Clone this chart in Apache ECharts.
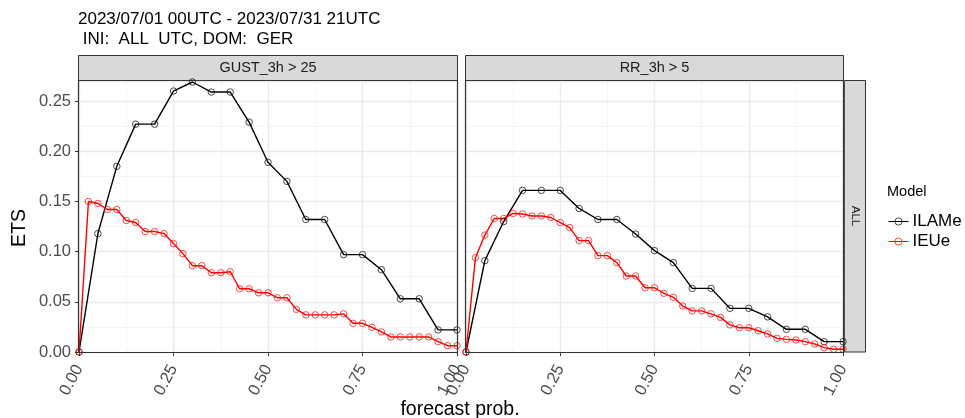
<!DOCTYPE html>
<html>
<head>
<meta charset="utf-8">
<script src="https://cdn.jsdelivr.net/npm/echarts@6/dist/echarts.min.js"></script>
<style>
  html, body { margin: 0; padding: 0; background: #fff; }
  #chart { width: 965px; height: 418px; }
</style>
</head>
<body>
<div id="chart"></div>
<script>
// Forecast probability thresholds (20-member and 40-member ensembles)
const probILAMe = [0, 0.05, 0.1, 0.15, 0.2, 0.25, 0.3, 0.35, 0.4, 0.45, 0.5,
  0.55, 0.6, 0.65, 0.7, 0.75, 0.8, 0.85, 0.9, 0.95, 1.0];
const probIEUe = [0, 0.025, 0.05, 0.075, 0.1, 0.125, 0.15, 0.175, 0.2, 0.225, 0.25,
  0.275, 0.3, 0.325, 0.35, 0.375, 0.4, 0.425, 0.45, 0.475, 0.5,
  0.525, 0.55, 0.575, 0.6, 0.625, 0.65, 0.675, 0.7, 0.725, 0.75,
  0.775, 0.8, 0.825, 0.85, 0.875, 0.9, 0.925, 0.95, 0.975, 1.0];

// ETS, GUST_3h > 25
const gustILAMe = [0, 0.118, 0.185, 0.227, 0.227, 0.260, 0.269, 0.259, 0.259, 0.229, 0.189,
  0.170, 0.132, 0.132, 0.097, 0.097, 0.082, 0.053, 0.053, 0.022, 0.022];
const gustIEUe = [0, 0.150, 0.148, 0.142, 0.142, 0.131, 0.129, 0.120, 0.120, 0.118, 0.108,
  0.098, 0.086, 0.086, 0.079, 0.079, 0.080, 0.063, 0.063, 0.059, 0.059,
  0.054, 0.054, 0.0425, 0.037, 0.037, 0.037, 0.037, 0.038, 0.0286, 0.0286,
  0.0246, 0.020, 0.015, 0.015, 0.015, 0.015, 0.015, 0.0103, 0.0063, 0.0063];

// ETS, RR_3h > 5
const rrILAMe = [0, 0.091, 0.130, 0.161, 0.161, 0.161, 0.143, 0.132, 0.132, 0.1175, 0.101,
  0.089, 0.0634, 0.0634, 0.0435, 0.0435, 0.035, 0.0226, 0.0226, 0.0103, 0.0103];
const rrIEUe = [0, 0.094, 0.1165, 0.133, 0.133, 0.138, 0.1375, 0.1355, 0.1355, 0.134, 0.129,
  0.124, 0.111, 0.111, 0.096, 0.096, 0.089, 0.0757, 0.0757, 0.064, 0.064,
  0.0585, 0.0545, 0.0458, 0.041, 0.041, 0.038, 0.0345, 0.027, 0.0242, 0.0242,
  0.0212, 0.018, 0.0136, 0.0126, 0.012, 0.0103, 0.008, 0.0043, 0.0027, 0.0027];

const models = ['ILAMe', 'IEUe'];
const panels = ['GUST_3h > 25', 'RR_3h > 5'];
const rowStrip = 'ALL';
const titleLines = ['2023/07/01 00UTC - 2023/07/31 21UTC', ' INI:  ALL  UTC, DOM:  GER'];
const xTitle = 'forecast prob.';
const yTitle = 'ETS';
const legendTitle = 'Model';

const colors = { ILAMe: '#000000', IEUe: '#ff0000' };
const FONT = '"Liberation Sans", Arial, sans-serif';

const gridBox = [
  { left: 79, top: 81, width: 378, height: 271 },
  { left: 466, top: 81, width: 377, height: 271 }
];

const pair = (xs, ys) => xs.map((x, i) => [x, ys[i]]);

function xAxisFor(i) {
  return {
    type: 'value', gridIndex: i, min: 0, max: 1, interval: 0.25,
    axisLine: { show: false },
    axisTick: { show: true, length: 4, lineStyle: { color: '#333333', width: 1 } },
    axisLabel: { rotate: 62, margin: 14, padding: [14, 0, 0, 0], color: '#4d4d4d',
      fontSize: 16.5, fontFamily: FONT, formatter: v => v.toFixed(2) },
    splitLine: { show: true, lineStyle: { color: '#ebebeb', width: 1.4 } },
    minorTick: { show: false, splitNumber: 2 },
    minorSplitLine: { show: true, lineStyle: { color: '#f2f2f2', width: 0.8 } }
  };
}
function yAxisMajor(i) {
  return {
    type: 'value', gridIndex: i, min: 0, max: 0.27, interval: 0.05,
    axisLine: { show: false },
    axisTick: { show: i === 0, length: 4, lineStyle: { color: '#333333', width: 1 } },
    axisLabel: { show: i === 0, showMaxLabel: false, margin: 8, color: '#4d4d4d',
      fontSize: 16.5, fontFamily: FONT, formatter: v => v.toFixed(2) },
    splitLine: { show: true, lineStyle: { color: '#ebebeb', width: 1.4 } },
    z: 1
  };
}
function yAxisMinor(i) {
  return {
    type: 'value', gridIndex: i, min: 0, max: 0.27, interval: 0.025, position: 'left',
    axisLine: { show: false }, axisTick: { show: false }, axisLabel: { show: false },
    splitLine: { show: true, lineStyle: { color: '#f2f2f2', width: 0.8 } },
    z: 0
  };
}

function lineSeries(name, grid, xs, ys) {
  return {
    name, type: 'line', xAxisIndex: grid, yAxisIndex: grid * 2,
    data: pair(xs, ys),
    color: colors[name],
    lineStyle: { color: colors[name], width: 1.4 },
    symbol: 'circle', symbolSize: 6.5, showAllSymbol: true,
    itemStyle: { color: 'rgba(255,255,255,0)', borderColor: colors[name], borderWidth: 1, opacity: 0.7 },
    emphasis: { disabled: true },
    animation: false, clip: true, z: 3
  };
}

const stripStyle = { fill: '#d9d9d9', stroke: '#333333', lineWidth: 1 };
const graphics = [];
gridBox.forEach((g, i) => {
  graphics.push({ type: 'rect', shape: { x: g.left - 0.5, y: 55.5, width: g.width + 1, height: 25 },
    style: stripStyle, silent: true });
  graphics.push({ type: 'text', x: g.left + g.width / 2, y: 68,
    style: { text: panels[i], fill: '#1a1a1a', font: '14.5px ' + FONT, align: 'center', verticalAlign: 'middle' },
    silent: true });
  // panel frame, drawn above the grid lines
  graphics.push({ type: 'rect', z: 10, shape: { x: g.left - 0.5, y: g.top - 0.5, width: g.width + 1, height: g.height + 1 },
    style: { fill: null, stroke: '#333333', lineWidth: 1.2 }, silent: true });
});
graphics.push({ type: 'rect', shape: { x: 844.5, y: 80.5, width: 21, height: 271.5 }, style: stripStyle, silent: true });
graphics.push({ type: 'text', x: 855, y: 216, rotation: -Math.PI / 2,
  style: { text: rowStrip, fill: '#1a1a1a', font: '11.5px ' + FONT, align: 'center', verticalAlign: 'middle' },
  silent: true });
graphics.push({ type: 'text', x: 78, y: 11,
  style: { text: titleLines[0], fill: '#000', font: '17px ' + FONT, align: 'left', verticalAlign: 'top' } });
graphics.push({ type: 'text', x: 78, y: 31,
  style: { text: titleLines[1], fill: '#000', font: '17px ' + FONT, align: 'left', verticalAlign: 'top', whiteSpace: 'pre' } });
graphics.push({ type: 'text', x: 460, y: 410,
  style: { text: xTitle, fill: '#000', font: '19.5px ' + FONT, align: 'center', verticalAlign: 'middle' } });
graphics.push({ type: 'text', x: 20, y: 228, rotation: Math.PI / 2,
  style: { text: yTitle, fill: '#000', font: '19.5px ' + FONT, align: 'center', verticalAlign: 'middle' } });
graphics.push({ type: 'text', x: 887, y: 192,
  style: { text: legendTitle, fill: '#000', font: '14.5px ' + FONT, align: 'left', verticalAlign: 'middle' } });

const chart = echarts.init(document.getElementById('chart'), null, { renderer: 'canvas' });
chart.setOption({
  animation: false,
  backgroundColor: '#ffffff',
  grid: gridBox.map(g => Object.assign({ show: false, containLabel: false }, g)),
  xAxis: [xAxisFor(0), xAxisFor(1)],
  yAxis: [yAxisMajor(0), yAxisMinor(0), yAxisMajor(1), yAxisMinor(1)],
  legend: {
    data: models, orient: 'vertical', left: 883, top: 208,
    itemWidth: 20, itemHeight: 9, itemGap: 3,
    lineStyle: { width: 1 },
    itemStyle: { borderWidth: 1 },
    textStyle: { color: '#000', fontSize: 17, fontFamily: FONT, padding: [0, 0, 0, -1] },
    selectedMode: false
  },
  series: [
    lineSeries('ILAMe', 0, probILAMe, gustILAMe),
    lineSeries('IEUe', 0, probIEUe, gustIEUe),
    lineSeries('ILAMe', 1, probILAMe, rrILAMe),
    lineSeries('IEUe', 1, probIEUe, rrIEUe)
  ],
  graphic: graphics
});
</script>
</body>
</html>
